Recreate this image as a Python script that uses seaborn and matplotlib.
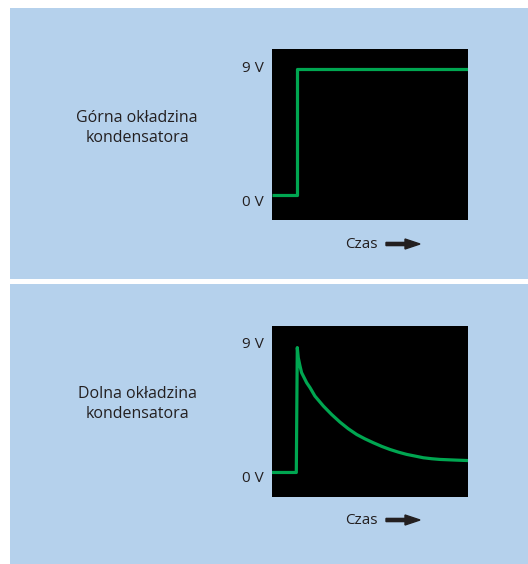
import matplotlib.pyplot as plt
import matplotlib.patches as mpatches
import pandas as pd
import seaborn as sns

# napiecie na gornej okladzinie - skok do 9 V
t_top = [0, 12.6, 12.6, 100]
v_top = [0, 0, 9, 9]

# dolna okladzina - skok i rozladowanie
t_bot = [0, 12.4, 12.9, 13.4, 14.3, 15.1, 17.7, 19.4, 21.9, 26.2, 30.4, 34.7, 38.9, 43.2, 47.4,
         51.7, 56.0, 60.2, 64.5, 68.7, 73.0, 77.2, 81.5, 85.7, 94.2, 100]
v_bot = [0, 0, 8.91, 8.19, 7.59, 7.12, 6.40, 6.05, 5.45, 4.74, 4.14, 3.59, 3.12, 2.71, 2.40,
         2.12, 1.86, 1.64, 1.45, 1.29, 1.17, 1.05, 0.98, 0.93, 0.88, 0.85]

labels = ["Górna okładzina\nkondensatora", "Dolna okładzina\nkondensatora"]
tick_labels = ["9 V", "0 V"]
xlabel = "Czas"

BG = "#b5d1ec"
GREEN = "#00a651"
TXT = "#231f20"
W, H = 528, 564

plt.rcParams['font.family'] = ['Open Sans', 'DejaVu Sans']

fig = plt.figure(figsize=(W / 100, H / 100), dpi=100, facecolor="white")

def fx(px):
    return px / W

def fy(py):
    return 1 - py / H

# niebieskie tla paneli
for top, bottom in [(8, 279), (284, 564)]:
    fig.patches.append(mpatches.Rectangle((fx(10), fy(bottom)), fx(528) - fx(10), fy(top) - fy(bottom),
                                          transform=fig.transFigure, facecolor=BG, edgecolor="none", zorder=-5))

panels = [(t_top, v_top, 49, 220, 0), (t_bot, v_bot, 326, 497, 276)]
for i, (t, v, top, bottom, off) in enumerate(panels):
    ax = fig.add_axes([fx(272), fy(bottom), fx(468) - fx(272), fy(top) - fy(bottom)])
    ax.set_zorder(2)
    ax.set_facecolor("black")
    df = pd.DataFrame({"t": t, "v": v})
    sns.lineplot(data=df, x="t", y="v", ax=ax, color=GREEN, lw=2.3, sort=False, estimator=None,
                 solid_joinstyle="round", solid_capstyle="butt")
    ax.set_xlim(0, 100)
    ax.set_ylim(-1.75, 10.45)
    ax.set_xticks([])
    ax.set_yticks([])
    ax.set_xlabel("")
    ax.set_ylabel("")
    for s in ax.spines.values():
        s.set_visible(False)

    fig.text(fx(264), fy(69 + off), tick_labels[0], ha="right", va="center", fontsize=11, color=TXT)
    fig.text(fx(264), fy(202 + off), tick_labels[1], ha="right", va="center", fontsize=11, color=TXT)
    fig.text(fx(137), fy(128 + off), labels[i], ha="center", va="center", fontsize=11.5,
             color=TXT, linespacing=1.35)
    fig.text(fx(378), fy(245 + off), xlabel, ha="right", va="center", fontsize=11, color=TXT)
    fig.patches.append(mpatches.FancyArrow(fx(386), fy(244 + off), fx(420) - fx(386), 0,
                                           width=3.2 / H, head_width=10 / H, head_length=15 / W,
                                           length_includes_head=True, transform=fig.transFigure,
                                           color=TXT, zorder=3))

fig.savefig("out.png", dpi=100, facecolor="white")
